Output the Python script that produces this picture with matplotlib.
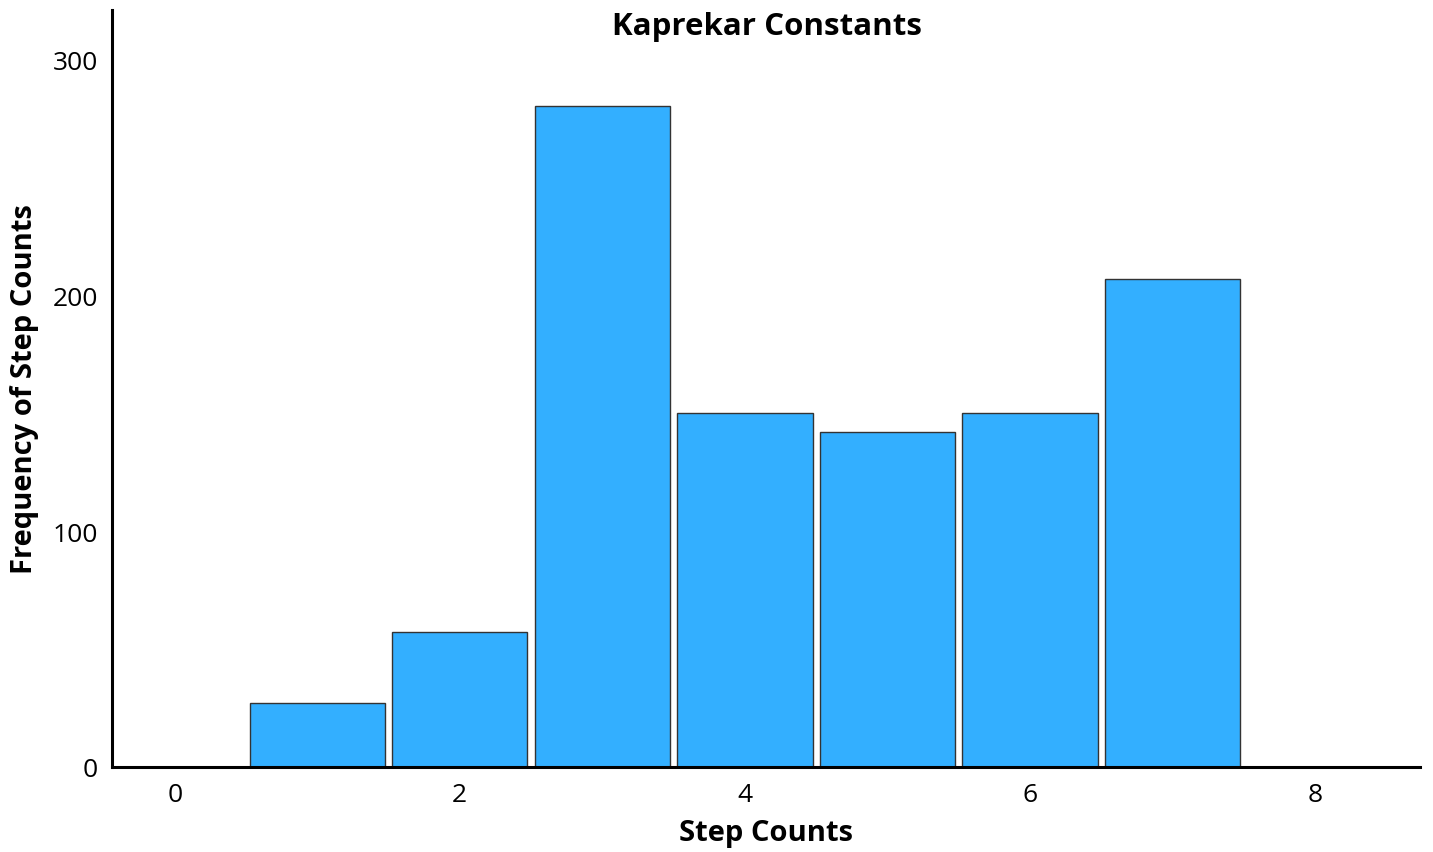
import matplotlib
matplotlib.use("Agg")
import matplotlib.pyplot as plt

step_counts = [1, 2, 3, 4, 5, 6, 7]
frequencies = [27, 57, 280, 150, 142, 150, 207]
x_ticks = [0, 2, 4, 6, 8]
y_ticks = [0, 100, 200, 300]

plt.rcParams['font.family'] = ['Open Sans', 'DejaVu Sans']

fig = plt.figure(figsize=(14.33, 8.53), dpi=100)
ax = fig.add_axes([112/1433, (853-768)/853, (1420-112)/1433, (768-11)/853])

ax.bar(step_counts, frequencies, width=0.95, color='#33AFFF',
       edgecolor='#333333', linewidth=1.0)

ax.set_xlim(-0.44, 8.737)
ax.set_ylim(0, 320.8)
ax.set_xticks(x_ticks)
ax.set_yticks(y_ticks)
ax.tick_params(axis='x', length=0, labelsize=19, pad=11)
ax.tick_params(axis='y', length=0, labelsize=19, pad=10)
for s in ['top', 'right']:
    ax.spines[s].set_visible(False)
for s in ['left', 'bottom']:
    ax.spines[s].set_linewidth(2.2)
    ax.spines[s].set_color('black')

fig.text(767/1433, (853-27)/853, 'Kaprekar Constants', fontsize=22.5,
         fontweight='bold', ha='center', va='center')
ax.set_xlabel('Step Counts', fontsize=21, fontweight='bold', labelpad=8)
ax.set_ylabel('Frequency of Step Counts', fontsize=21, fontweight='bold', labelpad=10)

fig.savefig('out.png', dpi=100)
